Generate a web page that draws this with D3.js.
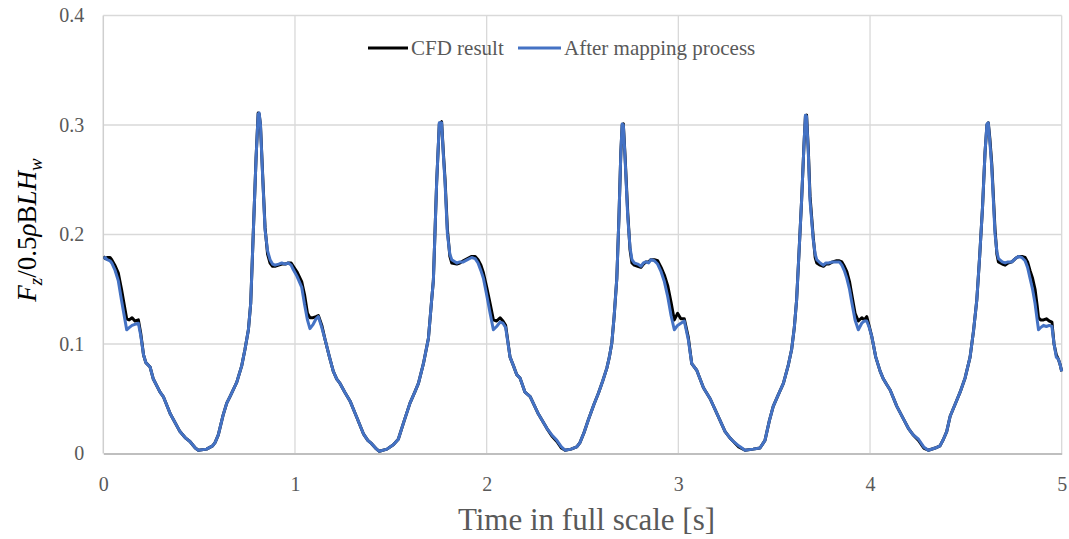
<!DOCTYPE html>
<html>
<head>
<meta charset="utf-8">
<script src="https://cdn.jsdelivr.net/npm/d3@7/dist/d3.min.js"></script>
<style>
  html, body { margin: 0; padding: 0; background: #ffffff; }
  svg { display: block; }
</style>
</head>
<body>
<svg id="chart" width="1069" height="539"></svg>
<script>
// ---------------- DATA ----------------
const times = [
  0.000,0.010,0.020,0.035,0.044,0.060,0.078,0.095,0.110,0.122,0.135,0.150,0.165,0.183,0.195,0.210,0.222,0.244,0.261,0.296,
  0.313,0.350,0.400,0.430,0.452,0.480,0.496,0.539,0.570,0.583,0.600,0.625,0.644,0.661,0.696,0.722,0.739,0.757,0.769,0.783,
  0.797,0.808,0.813,0.820,0.832,0.844,0.857,0.870,0.883,0.896,0.915,0.931,0.950,0.965,0.980,0.991,1.010,1.035,1.050,1.065,
  1.078,1.095,1.110,1.122,1.140,1.157,1.180,1.200,1.218,1.235,1.260,1.287,1.320,1.357,1.380,1.400,1.420,1.440,1.480,1.513,
  1.539,1.570,1.600,1.625,1.644,1.670,1.696,1.713,1.722,1.739,1.753,1.765,1.775,1.783,1.795,1.808,1.818,1.844,1.860,1.878,
  1.900,1.922,1.940,1.955,1.970,1.983,2.000,2.018,2.035,2.052,2.070,2.085,2.099,2.122,2.140,2.157,2.174,2.200,2.227,2.270,
  2.314,2.340,2.366,2.390,2.409,2.440,2.470,2.487,2.510,2.531,2.560,2.583,2.605,2.627,2.640,2.653,2.665,2.679,2.690,2.700,
  2.707,2.713,2.722,2.736,2.748,2.758,2.770,2.788,2.805,2.818,2.831,2.845,2.857,2.875,2.892,2.910,2.927,2.945,2.962,2.979,
  2.996,3.013,3.031,3.052,3.070,3.096,3.131,3.166,3.205,3.244,3.270,3.287,3.315,3.348,3.390,3.426,3.452,3.475,3.495,3.520,
  3.548,3.574,3.591,3.605,3.617,3.630,3.643,3.655,3.663,3.669,3.678,3.687,3.704,3.714,3.722,3.740,3.757,3.770,3.783,3.805,
  3.826,3.840,3.853,3.866,3.879,3.893,3.905,3.922,3.939,3.957,3.970,3.983,3.996,4.009,4.030,4.053,4.070,4.087,4.105,4.140,
  4.170,4.200,4.225,4.253,4.280,4.304,4.340,4.365,4.383,4.400,4.418,4.444,4.470,4.496,4.522,4.540,4.557,4.572,4.587,4.600,
  4.610,4.617,4.625,4.635,4.652,4.662,4.670,4.690,4.705,4.720,4.740,4.758,4.775,4.792,4.809,4.822,4.835,4.848,4.861,4.872,
  4.879,4.890,4.905,4.920,4.935,4.949,4.960,4.972,4.983,4.992,5.000
];

const cfdValues = [
  0.180,0.178,0.179,0.179,0.177,0.172,0.165,0.150,0.135,0.123,0.122,0.124,0.121,0.122,0.110,0.090,0.083,0.079,0.068,0.056,
  0.052,0.036,0.020,0.014,0.011,0.005,0.003,0.004,0.007,0.010,0.017,0.035,0.046,0.052,0.065,0.080,0.095,0.113,0.137,0.204,
  0.270,0.311,0.310,0.300,0.252,0.206,0.182,0.174,0.171,0.171,0.172,0.173,0.173,0.174,0.174,0.171,0.166,0.157,0.145,0.128,
  0.124,0.124,0.125,0.126,0.117,0.104,0.088,0.075,0.068,0.064,0.056,0.048,0.034,0.018,0.012,0.009,0.005,0.002,0.004,0.008,
  0.013,0.030,0.046,0.056,0.064,0.082,0.105,0.140,0.158,0.247,0.301,0.303,0.272,0.250,0.205,0.180,0.174,0.173,0.174,0.176,
  0.178,0.180,0.180,0.177,0.172,0.165,0.152,0.137,0.122,0.121,0.124,0.121,0.117,0.088,0.080,0.072,0.069,0.056,0.052,0.036,
  0.023,0.016,0.011,0.005,0.003,0.004,0.006,0.010,0.020,0.031,0.045,0.055,0.066,0.078,0.088,0.101,0.125,0.160,0.215,0.275,
  0.300,0.301,0.272,0.220,0.186,0.174,0.172,0.171,0.170,0.173,0.175,0.175,0.177,0.177,0.176,0.170,0.163,0.153,0.138,0.122,
  0.128,0.123,0.123,0.106,0.082,0.076,0.060,0.050,0.035,0.020,0.014,0.011,0.006,0.003,0.004,0.005,0.012,0.030,0.043,0.053,
  0.064,0.081,0.095,0.115,0.140,0.185,0.231,0.280,0.308,0.309,0.278,0.235,0.197,0.179,0.174,0.172,0.171,0.173,0.173,0.175,
  0.176,0.176,0.175,0.171,0.166,0.157,0.145,0.128,0.121,0.124,0.122,0.125,0.116,0.107,0.088,0.075,0.068,0.063,0.058,0.043,
  0.033,0.023,0.017,0.012,0.005,0.003,0.005,0.007,0.013,0.020,0.034,0.045,0.056,0.069,0.088,0.112,0.140,0.180,0.225,0.275,
  0.300,0.302,0.288,0.265,0.205,0.182,0.175,0.173,0.172,0.174,0.175,0.178,0.180,0.180,0.179,0.175,0.167,0.160,0.150,0.135,
  0.124,0.122,0.122,0.123,0.121,0.120,0.100,0.090,0.086,0.081,0.075
];

const mappedValues = [
  0.178,0.179,0.177,0.176,0.174,0.168,0.158,0.140,0.125,0.113,0.115,0.117,0.118,0.119,0.108,0.090,0.083,0.079,0.068,0.056,
  0.052,0.036,0.020,0.014,0.011,0.005,0.003,0.004,0.007,0.010,0.017,0.035,0.046,0.052,0.065,0.080,0.095,0.113,0.137,0.204,
  0.270,0.310,0.311,0.300,0.250,0.204,0.185,0.177,0.173,0.172,0.173,0.174,0.173,0.174,0.172,0.168,0.162,0.152,0.136,0.122,
  0.114,0.118,0.123,0.125,0.115,0.104,0.088,0.075,0.068,0.064,0.056,0.048,0.034,0.018,0.012,0.009,0.005,0.002,0.004,0.008,
  0.013,0.030,0.046,0.056,0.064,0.082,0.105,0.140,0.158,0.247,0.302,0.302,0.270,0.247,0.201,0.182,0.177,0.174,0.175,0.175,
  0.177,0.179,0.178,0.174,0.167,0.160,0.145,0.128,0.113,0.116,0.120,0.119,0.115,0.088,0.080,0.072,0.069,0.056,0.052,0.036,
  0.023,0.017,0.012,0.006,0.003,0.004,0.006,0.010,0.020,0.031,0.045,0.055,0.066,0.078,0.088,0.101,0.125,0.160,0.215,0.275,
  0.301,0.300,0.270,0.216,0.188,0.177,0.174,0.173,0.171,0.174,0.175,0.174,0.177,0.176,0.173,0.166,0.157,0.143,0.126,0.113,
  0.117,0.119,0.121,0.104,0.082,0.076,0.060,0.050,0.035,0.020,0.014,0.011,0.007,0.003,0.004,0.005,0.012,0.030,0.043,0.053,
  0.064,0.081,0.095,0.115,0.140,0.185,0.231,0.280,0.309,0.308,0.275,0.231,0.195,0.182,0.177,0.174,0.172,0.174,0.174,0.175,
  0.175,0.175,0.172,0.167,0.160,0.150,0.138,0.122,0.113,0.119,0.121,0.121,0.115,0.107,0.088,0.075,0.068,0.063,0.058,0.043,
  0.033,0.023,0.017,0.013,0.006,0.003,0.005,0.007,0.013,0.020,0.034,0.045,0.056,0.069,0.088,0.112,0.140,0.180,0.225,0.275,
  0.301,0.302,0.285,0.262,0.201,0.184,0.178,0.175,0.174,0.175,0.175,0.178,0.180,0.179,0.176,0.170,0.160,0.150,0.137,0.122,
  0.113,0.115,0.117,0.116,0.117,0.116,0.100,0.088,0.086,0.081,0.075
];

const seriesNames = ["CFD result", "After mapping process"];
const xTickValues = [0, 1, 2, 3, 4, 5];
const xTickLabels = ["0", "1", "2", "3", "4", "5"];
const yTickValues = [0, 0.1, 0.2, 0.3, 0.4];
const yTickLabels = ["0", "0.1", "0.2", "0.3", "0.4"];
const xTitle = "Time in full scale [s]";

// ---------------- LAYOUT ----------------
const plot = { left: 103.3, right: 1061.7, top: 15.5, bottom: 453.5 };
const textColor = "#595959";
const serif = "'Liberation Serif', 'Times New Roman', serif";

const svg = d3.select("#chart");

const x = d3.scaleLinear().domain([0, 5]).range([plot.left, plot.right]);
const y = d3.scaleLinear().domain([0, 0.4]).range([plot.bottom, plot.top]);

// gridlines
const grid = svg.append("g");
grid.selectAll("line.h").data(yTickValues.filter(v => v > 0)).join("line")
  .attr("x1", plot.left).attr("x2", plot.right)
  .attr("y1", d => y(d)).attr("y2", d => y(d))
  .attr("stroke", "#d9d9d9").attr("stroke-width", 1.3);
grid.selectAll("line.v").data(xTickValues.filter(v => v > 0)).join("line")
  .attr("x1", d => x(d)).attr("x2", d => x(d))
  .attr("y1", plot.top).attr("y2", plot.bottom)
  .attr("stroke", "#d9d9d9").attr("stroke-width", 1.3);

// left axis line
svg.append("line")
  .attr("x1", plot.left).attr("x2", plot.left)
  .attr("y1", plot.top).attr("y2", plot.bottom)
  .attr("stroke", "#cfcfcf").attr("stroke-width", 1.5);

// y axis
const yAxis = d3.axisLeft(y).tickValues(yTickValues)
  .tickFormat((d, i) => yTickLabels[i]).tickSize(0).tickPadding(19);
const gy = svg.append("g").attr("transform", `translate(${plot.left},0)`).call(yAxis);
gy.select(".domain").remove();
gy.selectAll("text").attr("font-family", serif).attr("font-size", 20).attr("fill", textColor);

// x axis
const xAxis = d3.axisBottom(x).tickValues(xTickValues)
  .tickFormat((d, i) => xTickLabels[i]).tickSize(0).tickPadding(23);
const gx = svg.append("g").attr("transform", `translate(0,${plot.bottom})`).call(xAxis);
gx.select(".domain").attr("stroke", "#bfbfbf").attr("stroke-width", 2);
gx.selectAll("text").attr("font-family", serif).attr("font-size", 20).attr("fill", textColor);

// lines
const data = times.map((t, i) => ({ t, cfd: cfdValues[i], map: mappedValues[i] }));
const lineCfd = d3.line().x(d => x(d.t)).y(d => y(d.cfd)).curve(d3.curveLinear);
const lineMap = d3.line().x(d => x(d.t)).y(d => y(d.map)).curve(d3.curveLinear);

const clip = svg.append("clipPath").attr("id", "clip").append("rect")
  .attr("x", plot.left).attr("y", plot.top - 5)
  .attr("width", plot.right - plot.left + 2).attr("height", plot.bottom - plot.top + 6);

svg.append("path").datum(data).attr("d", lineCfd)
  .attr("fill", "none").attr("stroke", "#000000").attr("stroke-width", 3)
  .attr("stroke-linejoin", "round").attr("clip-path", "url(#clip)");
svg.append("path").datum(data).attr("d", lineMap)
  .attr("fill", "none").attr("stroke", "#4472C4").attr("stroke-width", 3)
  .attr("stroke-linejoin", "round").attr("clip-path", "url(#clip)");

// legend
const legend = svg.append("g");
const legendItems = [
  { name: seriesNames[0], color: "#000000", x0: 368, x1: 408 },
  { name: seriesNames[1], color: "#4472C4", x0: 518, x1: 561 }
];
legendItems.forEach(it => {
  legend.append("line").attr("x1", it.x0).attr("x2", it.x1)
    .attr("y1", 48).attr("y2", 48)
    .attr("stroke", it.color).attr("stroke-width", 3);
  legend.append("text").attr("x", it.x1 + 3).attr("y", 55)
    .attr("font-family", serif).attr("font-size", 21).attr("fill", textColor)
    .text(it.name);
});

// x title
svg.append("text")
  .attr("x", (plot.left + plot.right) / 2 + 4).attr("y", 530)
  .attr("text-anchor", "middle")
  .attr("font-family", serif).attr("font-size", 31).attr("fill", textColor)
  .text(xTitle);

// y title : F_z / 0.5 ρ B L H_w
const yt = svg.append("text")
  .attr("transform", `translate(36,230) rotate(-90)`)
  .attr("text-anchor", "middle")
  .attr("font-family", serif).attr("font-size", 27).attr("fill", "#000000");
yt.append("tspan").attr("font-style", "italic").text("F");
yt.append("tspan").attr("font-style", "italic").attr("font-size", 19).attr("dy", 6).text("z");
yt.append("tspan").attr("dy", -6).text("/0.5");
yt.append("tspan").attr("font-style", "italic").text("ρ");
yt.append("tspan").text("B");
yt.append("tspan").attr("font-style", "italic").text("LH");
yt.append("tspan").attr("font-style", "italic").attr("font-size", 19).attr("dy", 6).text("w");
</script>
</body>
</html>
